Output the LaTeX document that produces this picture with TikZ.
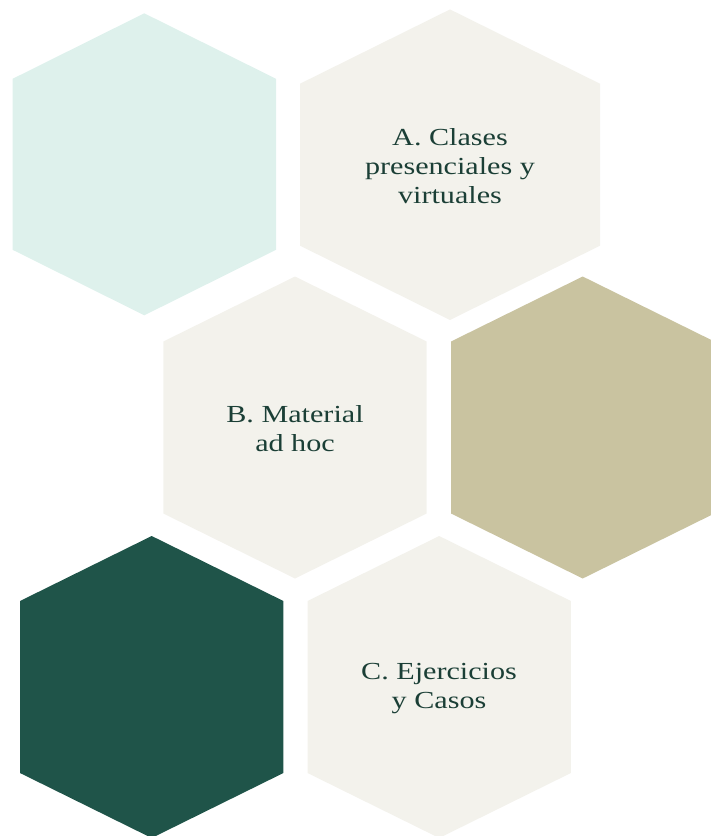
\documentclass[tikz,border=0pt]{standalone}
\usepackage{fontspec}
\setmainfont[FakeStretch=1.23]{Liberation Serif}
\definecolor{mint}{HTML}{DEF1EC}
\definecolor{cream}{HTML}{F3F2EC}
\definecolor{tan}{HTML}{C9C3A0}
\definecolor{forest}{HTML}{1F5449}
\definecolor{ink}{HTML}{1B3F36}
\newcommand\HexShape[6]{% cx cy halfwidth halfside halfheight color
  \fill[#6] (#1,#2-#5) -- (#1+#3,#2-#4) -- (#1+#3,#2+#4) -- (#1,#2+#5)
    -- (#1-#3,#2+#4) -- (#1-#3,#2-#4) -- cycle;}
\tikzset{hexlabel/.style={text=ink, align=center, inner sep=0pt,
  font=\fontsize{24.5}{29}\selectfont}}
\begin{document}
\begin{tikzpicture}[x=1pt,y=-1pt]
\useasboundingbox (0,0) rectangle (711,836);
\clip (0,0) rectangle (711,836);
\HexShape{144.3}{164.3}{131.7}{85.5}{151}{mint}
\HexShape{450}{164.7}{150}{81}{155.3}{cream}
\HexShape{295}{427.5}{131.7}{86}{151}{cream}
\HexShape{582.7}{427.5}{131.7}{86}{151}{tan}
\HexShape{151.7}{687}{131.7}{86}{151}{forest}
\HexShape{439.2}{687}{131.7}{86}{151}{cream}
\node[hexlabel] (a) at (450,166) {A. Clases\\presenciales y\\virtuales};
\node[hexlabel] (b) at (295,429) {B. Material\\ad hoc};
\node[hexlabel] (c) at (439,689) {C. Ejercicios\\y Casos};
\end{tikzpicture}
\end{document}
